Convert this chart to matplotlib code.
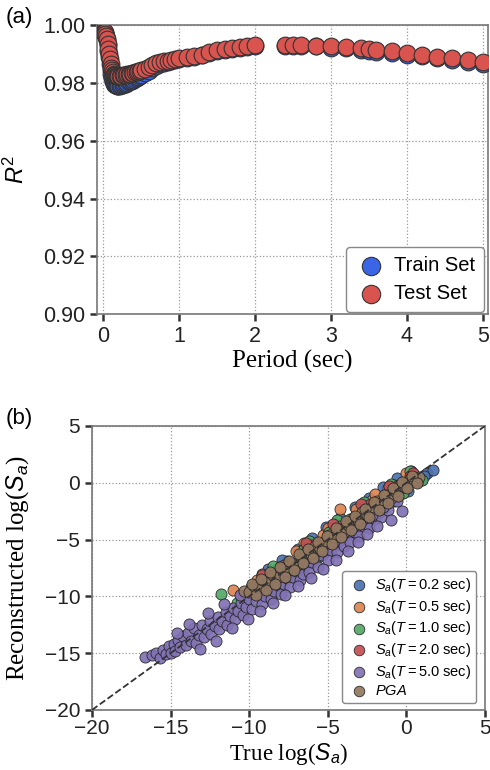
import matplotlib
matplotlib.use("Agg")
import matplotlib.pyplot as plt

plt.rcParams['font.family'] = ['Liberation Sans', 'DejaVu Sans']
plt.rcParams['mathtext.fontset'] = 'custom'
plt.rcParams['mathtext.rm'] = 'Liberation Sans'
plt.rcParams['mathtext.it'] = 'Liberation Sans:italic'

# (a) R^2 por periodo
period = [0.00, 0.01, 0.02, 0.03, 0.04, 0.05, 0.06, 0.07, 0.08, 0.09,
          0.10, 0.11, 0.12, 0.13, 0.14, 0.15, 0.16, 0.17, 0.18, 0.19,
          0.20, 0.22, 0.24, 0.26, 0.28, 0.30, 0.32, 0.34, 0.36, 0.38,
          0.40, 0.42, 0.44, 0.46, 0.48, 0.50, 0.55, 0.60, 0.65, 0.70,
          0.75, 0.80, 0.85, 0.90, 0.95, 1.0, 1.1, 1.2, 1.3, 1.4,
          1.5, 1.6, 1.7, 1.8, 1.9, 2.0, 2.4, 2.5, 2.6, 2.8,
          3.0, 3.2, 3.4, 3.5, 3.6, 3.8, 4.0, 4.2, 4.4, 4.6,
          4.8, 5.0]
r2_test = [0.9978, 0.9977, 0.9975, 0.9970, 0.9962, 0.9950, 0.9935, 0.9918, 0.9900, 0.9882,
           0.9866, 0.9853, 0.9843, 0.9836, 0.9831, 0.9828, 0.9826, 0.9825, 0.9824, 0.9823,
           0.9822, 0.9823, 0.9824, 0.9826, 0.9826, 0.9827, 0.9829, 0.9830, 0.9832, 0.9833,
           0.9835, 0.9836, 0.9838, 0.9840, 0.9842, 0.9844, 0.9848, 0.9855, 0.9862, 0.9868,
           0.9872, 0.9875, 0.9877, 0.9880, 0.9883, 0.9885, 0.9888, 0.9893, 0.9898, 0.9905,
           0.9912, 0.9917, 0.9921, 0.9925, 0.9928, 0.9930, 0.9930, 0.9931, 0.9932, 0.9929,
           0.9926, 0.9923, 0.9920, 0.9917, 0.9914, 0.9909, 0.9904, 0.9898, 0.9891, 0.9885,
           0.9878, 0.9872]
r2_train = [0.9978, 0.9977, 0.9974, 0.9969, 0.9960, 0.9947, 0.9930, 0.9910, 0.9888, 0.9866,
            0.9846, 0.9830, 0.9817, 0.9807, 0.9800, 0.9796, 0.9793, 0.9791, 0.9790, 0.9789,
            0.9789, 0.9790, 0.9791, 0.9793, 0.9795, 0.9797, 0.9800, 0.9802, 0.9805, 0.9808,
            0.9811, 0.9814, 0.9817, 0.9820, 0.9823, 0.9826, 0.9833, 0.9841, 0.9850, 0.9858,
            0.9864, 0.9869, 0.9873, 0.9876, 0.9879, 0.9882, 0.9885, 0.9890, 0.9895, 0.9902,
            0.9909, 0.9914, 0.9918, 0.9922, 0.9925, 0.9927, 0.9927, 0.9928, 0.9929, 0.9926,
            0.9922, 0.9919, 0.9915, 0.9911, 0.9908, 0.9903, 0.9898, 0.9892, 0.9885, 0.9879,
            0.9872, 0.9866]

# (b) log(Sa) verdadero vs reconstruido
sa02_true = [-9.6, -9.0, -8.5, -8.0, -7.6, -7.1, -6.7, -6.2, -5.8, -5.3, -4.9, -4.4, -4.0,
             -3.5, -3.1, -2.6, -2.2, -1.7, -1.3, -0.8, -0.4, 0.1, 0.5, 0.9, 1.3, 1.7,
             -8.8, -7.9, -6.9, -6.0, -5.1, -4.2, -3.3, -2.4, -1.5, -0.6, 0.3, 1.1]
sa02_pred = [-9.0, -9.6, -8.0, -8.9, -6.9, -7.9, -6.3, -7.1, -5.2, -6.2, -4.3, -5.3, -3.4,
             -4.4, -2.6, -3.5, -1.7, -2.6, -0.9, -1.6, -0.1, -0.7, 0.6, 0.2, 0.9, 1.1,
             -7.6, -6.8, -5.8, -4.9, -3.9, -3.1, -2.1, -1.3, -0.4, 0.4, 1.0, 0.6]
sa05_true = [-11.0, -10.2, -9.5, -8.8, -8.1, -7.4, -6.7, -6.0, -5.3, -4.6,
             -4.2, -3.6, -2.9, -2.2, -1.5, -0.8, -0.3, 0.3, 0.8,
             -9.2, -7.0, -5.0, -3.2, -1.2, 0.0, -6.5, -2.0]
sa05_pred = [-9.4, -9.9, -8.6, -9.3, -7.4, -8.0, -6.0, -6.8, -4.6, -5.5,
             -2.3, -3.2, -3.5, -1.5, -2.3, -0.2, -0.9, 0.7, 0.4,
             -8.0, -6.0, -4.0, -2.3, -0.5, 0.9, -5.3, -1.0]
sa10_true = [-11.8, -10.8, -9.9, -9.0, -8.1, -7.3, -6.5, -5.7, -4.9,
             -4.1, -3.3, -2.5, -1.7, -0.9, -0.2, 0.5, 1.0,
             -8.5, -6.2, -4.4, -2.7, -1.0, 0.2, -5.5]
sa10_pred = [-9.8, -10.6, -9.2, -9.6, -7.5, -8.3, -5.8, -6.6, -4.3,
             -4.9, -3.8, -2.0, -2.4, -0.3, -0.9, 0.7, 0.2,
             -7.3, -5.1, -3.3, -1.7, -0.1, 1.0, -5.9]
sa20_true = [-10.5, -9.6, -8.7, -7.8, -6.9, -6.0, -5.1, -4.2, -3.3, -2.4, -1.5, -0.6, 0.2, 0.7,
             -9.2, -6.4, -4.7, -2.9, -1.1, 0.4]
sa20_pred = [-10.0, -9.1, -9.3, -7.2, -7.6, -5.5, -5.9, -3.8, -4.0, -2.0, -2.1, -0.3, 0.6, 0.1,
             -8.1, -5.3, -3.6, -1.9, -0.3, 0.9]
sa50_true = [-16.6, -16.2, -15.9, -15.7, -15.5, -15.3, -15.1, -15.0, -14.8, -14.7,
             -14.5, -14.4, -14.2, -14.0, -13.9, -13.7, -13.5, -13.4, -13.2, -13.0,
             -12.9, -12.7, -12.5, -12.4, -12.2, -12.0, -11.9, -11.7, -11.5, -11.4,
             -11.2, -11.0, -10.9, -10.7, -10.5, -10.4, -10.2, -10.0, -9.8, -9.6,
             -9.4, -9.2, -9.0, -8.8, -8.6, -8.4, -8.2, -8.0, -7.8, -7.6,
             -7.4, -7.2, -7.0, -6.8, -6.6, -6.4, -6.2, -6.0, -5.8, -5.6,
             -5.4, -5.2, -5.0, -4.8, -4.6, -4.4, -4.2, -4.0, -3.8, -3.6,
             -3.3, -3.0, -2.7, -2.4, -2.0, -1.6, -1.2,
             -14.6, -13.8, -13.1, -12.6, -12.1, -11.6, -11.1, -10.6, -10.1, -9.7,
             -9.3, -8.9, -8.5, -8.1, -7.7, -7.3, -6.9, -6.5, -6.1, -5.7,
             -5.3, -4.9, -4.5, -4.1, -3.7, -3.4, -3.1, -2.8, -2.5, -2.2,
             -1.9, -1.5, -1.0, -0.6, -0.3]
sa50_pred = [-15.3, -15.2, -15.0, -15.4, -14.7, -15.1, -14.4, -15.0, -14.2, -14.8,
             -13.8, -14.5, -13.5, -14.3, -13.2, -13.9, -12.8, -14.1, -13.4, -12.5,
             -13.6, -12.9, -12.2, -13.3, -12.6, -11.8, -12.9, -12.2, -11.4, -12.5,
             -11.7, -11.0, -12.0, -11.3, -10.6, -11.6, -10.9, -10.2, -11.1, -10.4,
             -9.8, -10.7, -10.0, -9.4, -10.2, -9.5, -9.0, -9.8, -8.9, -8.4,
             -9.2, -8.3, -7.8, -8.6, -8.0, -7.2, -7.9, -7.0, -6.6, -7.4,
             -6.4, -5.9, -6.8, -5.9, -5.3, -6.1, -5.0, -5.6, -4.6, -5.2,
             -4.3, -4.7, -3.8, -4.0, -3.2, -3.0, -2.4,
             -13.2, -12.4, -14.6, -11.5, -13.9, -10.7, -12.8, -9.9, -12.0, -9.3,
             -11.3, -8.7, -10.6, -8.1, -9.9, -7.5, -9.1, -6.8, -8.4, -6.0,
             -7.6, -5.3, -6.8, -4.6, -6.0, -3.9, -5.2, -3.3, -4.5, -2.8,
             -3.8, -2.1, -3.3, -1.6, -2.5]
pga_true = [-10.3, -10.0, -9.7, -9.4, -9.1, -8.8, -8.5, -8.2, -7.9, -7.6,
            -7.3, -7.0, -6.7, -6.4, -6.1, -5.8, -5.5, -5.2, -4.9, -4.6,
            -4.3, -4.0, -3.7, -3.4, -3.1, -2.8, -2.5, -2.2, -1.9, -1.6,
            -1.3, -1.0, -0.7, -0.4, -0.1, 0.2, 0.5, 0.8,
            -9.85, -9.55, -9.25, -8.95, -8.65, -8.35, -8.05, -7.75, -7.45, -7.15,
            -6.85, -6.55, -6.25, -5.95, -5.65, -5.35, -5.05, -4.75, -4.45, -4.15,
            -3.85, -3.55, -3.25, -2.95, -2.65, -2.35, -2.05, -1.75, -1.45, -1.15,
            -0.85, -0.55, -0.25, 0.05, 0.35, 0.65]
pga_pred = [-9.5, -9.6, -9.1, -9.2, -8.6, -8.7, -8.1, -8.3, -7.6, -7.8,
            -7.1, -7.3, -6.6, -6.1, -6.3, -5.6, -5.8, -5.1, -4.6, -4.8,
            -4.1, -4.3, -3.7, -3.1, -3.3, -2.6, -2.8, -2.1, -1.6, -1.8,
            -1.1, -1.3, -0.7, -0.2, -0.4, 0.3, 0.2, 0.5,
            -8.9, -9.9, -8.5, -9.4, -7.9, -8.9, -7.4, -8.3, -6.9, -7.7,
            -6.3, -7.1, -5.8, -6.6, -5.2, -6.0, -4.7, -5.4, -4.0, -4.8,
            -3.4, -4.2, -2.9, -3.6, -2.3, -3.0, -1.7, -2.4, -1.1, -1.8,
            -0.5, -1.2, 0.1, -0.5, 0.6, 0.0]

series_b = [
    (sa02_true, sa02_pred, '#4C72B0', r'$S_a(T = 0.2$ sec)'),
    (sa05_true, sa05_pred, '#DD8452', r'$S_a(T = 0.5$ sec)'),
    (sa10_true, sa10_pred, '#55A868', r'$S_a(T = 1.0$ sec)'),
    (sa20_true, sa20_pred, '#C44E52', r'$S_a(T = 2.0$ sec)'),
    (sa50_true, sa50_pred, '#8172B3', r'$S_a(T = 5.0$ sec)'),
    (pga_true, pga_pred, '#937860', r'$PGA$'),
]


def style_axes(ax, size):
    ax.grid(True, linestyle=':', color='#999999', linewidth=0.9)
    ax.set_axisbelow(True)
    for side in ['left', 'bottom', 'top', 'right']:
        ax.spines[side].set_color('#777777')
        ax.spines[side].set_linewidth(1.2)
    ax.tick_params(axis='both', direction='out', length=5, width=1.8,
                   color='#333333', labelsize=size, labelcolor='#222222',
                   top=False, right=False)


fig = plt.figure(figsize=(4.9, 7.7), dpi=100)

# Panel (a)
ax1 = fig.add_axes([0.198, 0.592, 0.798, 0.3755])
ax1.scatter(period, r2_train, s=145, color='#3a66e6', edgecolor='#333333',
            linewidth=0.8, label='Train Set', zorder=3)
ax1.scatter(period, r2_test, s=145, color='#d9534f', edgecolor='#333333',
            linewidth=0.8, label='Test Set', zorder=4)
ax1.set_xlim(-0.08, 5.07)
ax1.set_ylim(0.90, 1.0)
ax1.set_yticks([0.90, 0.92, 0.94, 0.96, 0.98, 1.00])
ax1.set_yticklabels(['0.90', '0.92', '0.94', '0.96', '0.98', '1.00'])
ax1.set_xticks([0, 1, 2, 3, 4, 5])
style_axes(ax1, 15.5)
ax1.set_xlabel('Period (sec)', family='Liberation Serif', fontsize=18)
ax1.xaxis.set_label_coords(0.5, -0.125)
ax1.set_ylabel(r'$R^2$', fontsize=17)
ax1.yaxis.set_label_coords(-0.175, 0.5)
leg1 = ax1.legend(loc='lower right', bbox_to_anchor=(0.995, 0.0), fontsize=14.5,
                  markerscale=1.1, handletextpad=0.35, borderpad=0.45,
                  labelspacing=0.45, borderaxespad=0.1, handlelength=1.6,
                  framealpha=1, edgecolor='#888888')
fig.text(0.012, 0.977, '(a)', fontsize=16, va='center')

# Panel (b)
ax2 = fig.add_axes([0.1878, 0.078, 0.802, 0.3688])
for xs, ys, c, lab in series_b:
    ax2.scatter(xs, ys, s=64, color=c, edgecolor='#222222', linewidth=0.6,
                alpha=0.92, label=lab, zorder=3)
ax2.plot([-20, 5], [-20, 5], linestyle='--', color='#333333', linewidth=1.3, zorder=4)
ax2.set_xlim(-20, 5)
ax2.set_ylim(-20, 5)
ax2.set_xticks([-20, -15, -10, -5, 0, 5])
ax2.set_yticks([-20, -15, -10, -5, 0, 5])
style_axes(ax2, 15)
ax2.tick_params(axis='x', pad=1.5)
ax2.set_xlabel(r'True log($S_a$)', family='Liberation Serif', fontsize=16.5)
ax2.xaxis.set_label_coords(0.5, -0.108)
ax2.set_ylabel(r'Reconstructed log($S_a$)', family='Liberation Serif', fontsize=18)
ax2.yaxis.set_label_coords(-0.155, 0.5)
leg2 = ax2.legend(loc='lower right', bbox_to_anchor=(0.982, 0.018), fontsize=10.5,
                  markerscale=0.95, handletextpad=0.3, borderpad=0.35,
                  labelspacing=0.25, borderaxespad=0.1, handlelength=1.6,
                  framealpha=1, edgecolor='#888888')
fig.text(0.012, 0.456, '(b)', fontsize=16, va='center')

fig.savefig('out.png', dpi=100)
